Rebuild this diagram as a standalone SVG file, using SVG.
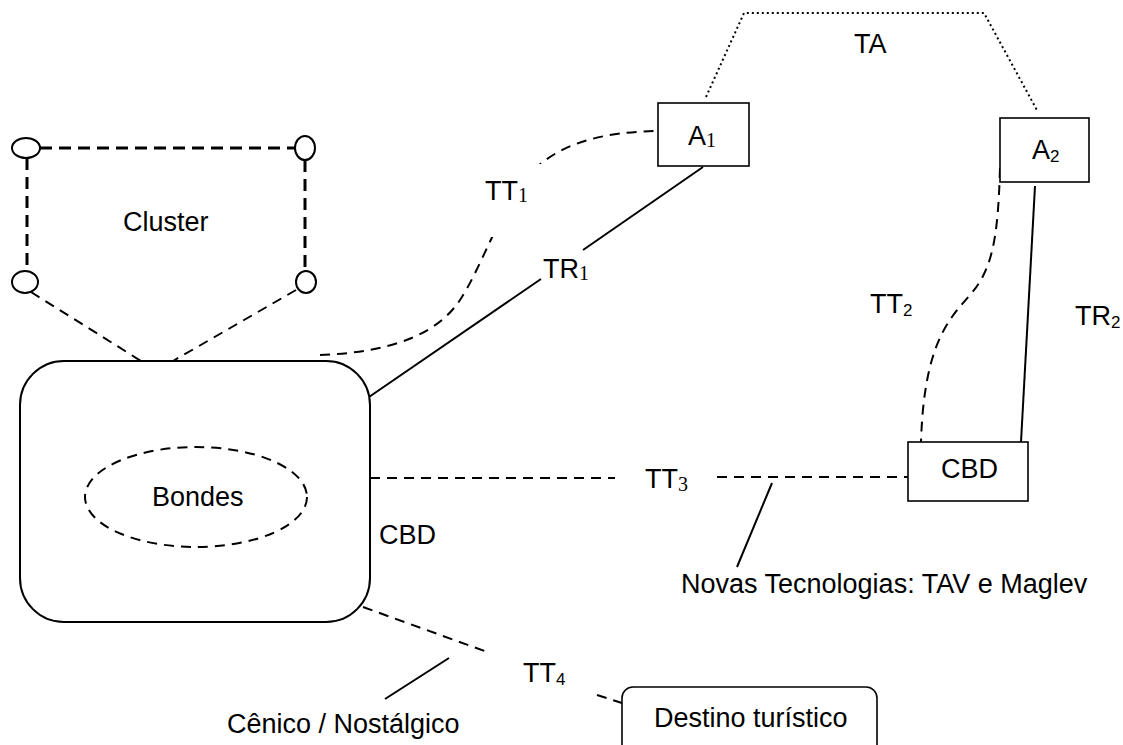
<svg xmlns="http://www.w3.org/2000/svg" width="1123" height="745" viewBox="0 0 1123 745">
<style>
text{font-family:"Liberation Sans",Arial,sans-serif;font-size:27px;fill:#000}
.ser{font-family:"Liberation Serif","Times New Roman",serif;font-size:20px}
.sub{font-size:17px}
.box{fill:#fff;stroke:#000;stroke-width:1.6}
.solid{fill:none;stroke:#000;stroke-width:2}
.dash{fill:none;stroke:#000;stroke-width:2;stroke-dasharray:10,7}
.cdash{fill:none;stroke:#000;stroke-width:3;stroke-dasharray:12,7}
.dot{fill:none;stroke:#000;stroke-width:2;stroke-dasharray:2,3}
.node{fill:#fff;stroke:#000;stroke-width:2}
</style>
<rect width="1123" height="745" fill="#fff"/>
<g id="connectors">
<path class="cdash" d="M40,148 L295,148"/>
<path class="cdash" d="M27,158 L27,271"/>
<path class="cdash" d="M305,160 L305,271"/>
<path class="dash" d="M31,292 L141,361"/>
<path class="dash" d="M296,290 L173,361"/>
<path class="dot" d="M706,97 L744,13 L984,13 L1038,112"/>
<path class="dash" d="M320,355 C400,352 440,330 460,300 S498,215 525,180 S600,131 663,131"/>
<path class="solid" d="M703,167 L583,250 M541,279 L369,397"/>
<path class="dash" d="M1000,168 C998,240 992,270 970,295 S924,345 921,442"/>
<path class="solid" d="M1035,186 L1021,442"/>
<path class="dash" stroke-width="2.5" d="M370,478 L615,478 M717,477 L908,477"/>
<path class="solid" d="M772,483 L737,567"/>
<path class="dash" d="M363,607 L490,653 M597,695 L622,703"/>
<path class="solid" d="M449,658 L385,699"/>
</g>
<g id="cluster">
<ellipse class="node" cx="26" cy="148" rx="14" ry="10"/>
<ellipse class="node" cx="305" cy="148" rx="10" ry="12"/>
<ellipse class="node" cx="25" cy="282" rx="13" ry="11"/>
<ellipse class="node" cx="306" cy="282" rx="10" ry="11"/>
<text x="123" y="231">Cluster</text>
</g>
<g id="cbd-main">
<rect class="node" x="20" y="361" width="350" height="261" rx="44" ry="44"/>
<text x="379" y="544">CBD</text>
</g>
<g id="bondes">
<ellipse class="dash" cx="196" cy="497" rx="111" ry="50"/>
<text x="152" y="506">Bondes</text>
</g>
<g id="a1">
<rect class="box" x="658" y="103" width="91" height="63"/>
<text x="688" y="145">A<tspan class="ser" dy="2">1</tspan></text>
</g>
<g id="a2">
<rect class="box" x="1000" y="118" width="89" height="64"/>
<text x="1032" y="159">A<tspan class="sub" dy="3">2</tspan></text>
</g>
<g id="cbd-right">
<rect class="box" x="908" y="442" width="120" height="59"/>
<text x="941" y="478">CBD</text>
</g>
<g id="destino">
<rect class="box" x="622" y="687" width="255" height="80" rx="11" ry="11"/>
<text x="654" y="727">Destino turístico</text>
</g>
<g id="labels">
<rect x="486" y="164" width="58" height="73" fill="#fff"/>
<text x="854" y="53">TA</text>
<text x="485" y="200">TT<tspan class="ser" dy="2">1</tspan></text>
<text x="543" y="278">TR<tspan class="ser" dy="2">1</tspan></text>
<text x="870" y="313">TT<tspan class="sub" dy="3">2</tspan></text>
<text x="1075" y="325">TR<tspan class="sub" dy="3">2</tspan></text>
<text x="645" y="488">TT<tspan class="ser" dy="3">3</tspan></text>
<text x="523" y="682">TT<tspan class="sub" dy="3">4</tspan></text>
<text x="681" y="593">Novas Tecnologias: TAV e Maglev</text>
<text x="227" y="733">Cênico / Nostálgico</text>
</g>
</svg>
